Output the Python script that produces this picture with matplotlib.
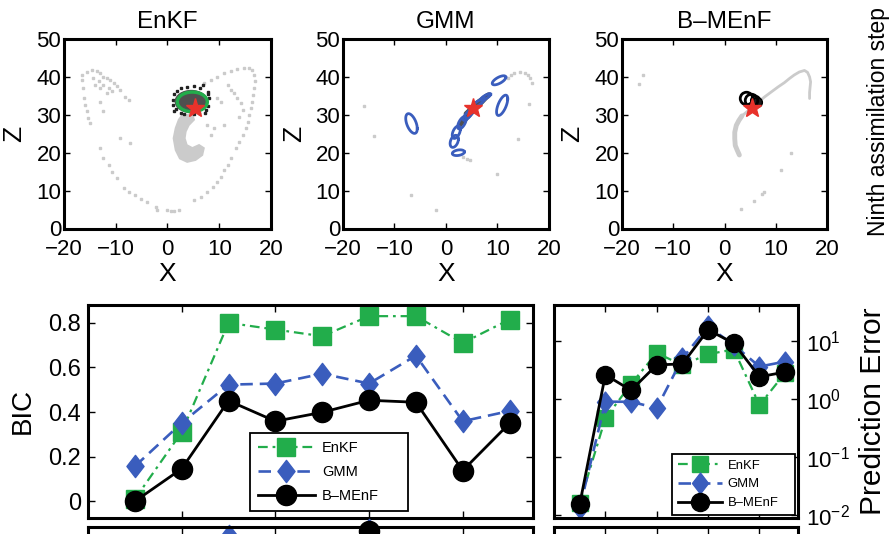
import numpy as np
import matplotlib
matplotlib.use("Agg")
import matplotlib.pyplot as plt
from matplotlib.patches import Ellipse, Polygon
from matplotlib.path import Path

plt.rcParams['font.family'] = ['Liberation Sans', 'DejaVu Sans']
plt.rcParams['lines.scale_dashes'] = False
plt.rcParams['mathtext.default'] = 'regular'

# ---------------------------------------------------------------- colours
GREEN = '#22ad4b'
BLUE = '#3a5dbd'
RED = '#e8322b'
LIGHT = '#cbcbcb'
DARK = '#4f4f4f'

# ------------------------------------------- X-Z snapshot (ninth step)
truth_x, truth_z = 5.3, 31.7

# EnKF: background ensemble spread over both wings
enkf_cloud_x = [-16.6, -15.6, -14.6, -13.7, -13.0, -12.4, -11.7, -11.1, -10.4, -9.8, -9.1,
                -8.2, -7.5, -14.3, -13.3, -12.4, -11.4, -10.7, -13.0, -11.7, -14.0,
                -16.6, -16.4, -16.1, -15.9, -15.6, -15.3, -15.0, -13.0, -12.4, -9.1, -7.2,
                -13.0, -12.4, -11.4, -10.7, -9.8, -8.5, -7.5, -6.2, -5.2, -4.0, -2.3,
                -2.0, 0.0, 0.6, 1.2, 2.2, 5.1, 6.4, 7.7, 8.7, 9.6, 10.3, 10.9, 11.6, 12.2,
                7.1, 8.4, 9.6, 10.9, 12.2, 13.5, 14.8, 15.8, 16.4, 16.8, 16.9, 16.8,
                16.6, 16.4, 16.1, 15.8, 15.5, 15.1, 14.5, 13.9, 13.2,
                11.6, 12.2, 12.9, 13.5, 14.2, 14.5, 13.9,
                7.7, 9.0, 10.9, 8.4, 9.6, 10.3]
enkf_cloud_z = [40.6, 41.4, 41.9, 41.6, 41.0, 40.1, 39.7, 39.2, 38.4, 37.5, 36.6,
                34.8, 34.0, 39.7, 38.8, 37.9, 37.0, 36.2, 37.0, 35.7, 37.9,
                39.2, 37.0, 34.4, 32.6, 30.9, 29.1, 27.8, 33.5, 30.9, 23.8, 22.5,
                21.2, 18.5, 16.8, 15.0, 13.2, 10.6, 9.7, 8.8, 7.9, 7.1, 5.7,
                4.9, 4.9, 4.6, 4.6, 4.9, 7.5, 8.4, 9.7, 11.0, 12.3, 13.7, 15.4, 16.8, 18.5,
                38.4, 39.2, 40.1, 41.0, 41.6, 42.2, 42.3, 42.3, 41.9, 40.6, 38.8, 37.0,
                35.3, 33.5, 31.7, 30.0, 28.2, 26.5, 24.7, 22.9, 21.2,
                37.9, 36.6, 35.7, 34.4, 33.1, 31.3, 29.5,
                27.3, 26.5, 27.3, 24.7, 34.4, 33.5]
# dense hook of members below the analysis
enkf_hook_x = [2.9, 4.8, 5.1, 4.1, 3.5, 3.3, 3.7, 4.8, 6.1, 7.0, 6.7, 5.4, 3.8, 2.4,
               1.6, 1.2, 1.6, 2.2]
enkf_hook_z = [30.0, 30.0, 28.7, 27.3, 25.6, 23.8, 22.0, 21.2, 22.0, 21.2, 19.4, 18.1,
               17.6, 18.5, 20.7, 23.8, 26.5, 28.7]
# analysis ensemble (mean / half-spread) and its outlying members
enkf_ens_mean = (4.6, 33.5)
enkf_ens_halfwidth = (3.1, 2.9)
enkf_fit_mean = (4.8, 33.4)
enkf_fit_halfwidth = (2.9, 2.6)
enkf_outer_x = [1.2, 1.8, 2.6, 5.1, 6.8, 7.8, 8.1, 7.8, 7.2, 5.1, 2.6, 1.2, 1.0, 1.1,
                6.3, 3.8, 1.6, 7.5, 7.9, 3.2, 6.0]
enkf_outer_z = [35.6, 36.4, 37.0, 37.6, 37.8, 36.0, 34.4, 32.2, 30.4, 30.1, 30.4, 30.9,
                32.6, 34.0, 37.2, 37.3, 31.5, 31.2, 35.6, 30.3, 30.6]

# GMM: ensemble and fitted mixture components
gmm_cloud_x = [12.0, 12.7, 13.3, 14.3, 15.3, 15.9, 16.4, 16.7, 3.3, 4.0, 4.7,
               -16.0, -13.9, -6.7, -1.9, 10.0, 14.0, 16.1]
gmm_cloud_z = [39.6, 40.5, 40.9, 41.2, 41.1, 40.6, 39.8, 38.5, 18.8, 18.4, 18.2,
               32.3, 24.4, 8.8, 5.0, 14.4, 23.7, 32.8]
gmm_dense_x = [3.9, 4.6, 5.2, 5.9, 6.5, 7.2, 7.8, 8.3, 2.6]
gmm_dense_z = [30.3, 31.2, 32.1, 33.0, 33.6, 34.3, 34.9, 35.3, 27.2]
gmm_mean_x = [-6.7, 10.3, 10.9, 2.4, 1.6, 2.0, 3.1, 4.3, 6.2, 7.7]
gmm_mean_z = [27.7, 39.1, 32.5, 20.0, 23.0, 25.4, 27.9, 30.0, 33.0, 34.7]
gmm_var_x = [1.25, 1.74, 1.17, 1.38, 0.64, 0.62, 0.68, 0.95, 1.71, 0.97]
gmm_cov_xz = [-1.51, 1.06, 1.85, 0.25, 0.46, 0.62, 0.83, 1.14, 1.50, 0.71]
gmm_var_z = [6.77, 1.43, 7.19, 0.57, 2.53, 2.66, 2.68, 2.16, 1.72, 0.78]

# B-MEnF: ensemble along the trajectory and retained kernels
bmenf_arc_x = [2.9, 2.5, 2.1, 2.0, 2.0, 2.3, 2.8, 3.4, 7.8, 9.1, 10.4, 11.7, 12.7,
               13.6, 14.6, 15.6, 16.2, 16.6, 16.8, 16.6, 16.6]
bmenf_arc_z = [19.4, 20.6, 21.9, 23.7, 25.4, 27.2, 28.5, 29.7, 34.7, 36.0, 37.3, 38.5,
               39.6, 40.5, 41.3, 41.7, 41.2, 40.0, 38.7, 35.9, 34.3]
bmenf_cloud_x = [-15.9, -16.7, 13.0, 11.0, 7.8, 7.3, 5.8, 3.3]
bmenf_cloud_z = [40.5, 38.1, 20.0, 15.5, 9.5, 9.1, 7.2, 5.1]
bmenf_kernel_x = [4.2, 5.2]
bmenf_kernel_z = [34.4, 33.9]
bmenf_core_x = [5.9, 6.4]
bmenf_core_z = [33.8, 33.5]

panel_titles = ['EnKF', 'GMM', 'B\u2013MEnF']
x_ticks = [-20, -10, 0, 10, 20]
z_ticks = [0, 10, 20, 30, 40, 50]

# ------------------------------------------------ scores per step
steps = [1, 2, 3, 4, 5, 6, 7, 8, 9]
bic_enkf = [0.01, 0.31, 0.80, 0.77, 0.74, 0.83, 0.83, 0.71, 0.815]
bic_gmm = [0.157, 0.351, 0.523, 0.528, 0.572, 0.528, 0.653, 0.359, 0.405]
bic_bmenf = [0.0, 0.146, 0.451, 0.359, 0.399, 0.453, 0.444, 0.138, 0.35]

err_enkf = [0.016, 0.46, 1.8, 6.2, 3.8, 5.9, 7.1, 0.78, 2.8]
err_gmm = [0.013, 0.89, 0.89, 0.69, 5.0, 17.8, 8.5, 3.6, 4.4]
err_bmenf = [0.015, 2.6, 1.4, 3.85, 4.0, 15.5, 9.1, 2.4, 2.9]

# next row (mostly outside the frame)
next_gmm_steps = [3, 6]
next_gmm_vals = [0.84, 0.865]
next_bmenf_steps = [6]
next_bmenf_vals = [0.86]

legend_labels = ['EnKF', 'GMM', 'B\u2013MEnF']

# ---------------------------------------------------------------- figure
W, H = 889, 534
fig = plt.figure(figsize=(W / 100, H / 100), dpi=100)


def axes_px(left, top, right, bottom):
    return fig.add_axes([left / W, 1 - bottom / H, (right - left) / W, (bottom - top) / H])


tall_diamond = Path([(0, 1), (0.77, 0), (0, -1), (-0.77, 0), (0, 1)],
                    [Path.MOVETO, Path.LINETO, Path.LINETO, Path.LINETO, Path.CLOSEPOLY])


def style_snapshot(ax, title):
    ax.set_xlim(-20, 20)
    ax.set_ylim(0, 50)
    ax.set_xticks(x_ticks)
    ax.set_yticks(z_ticks)
    ax.tick_params(direction='in', top=True, right=True, length=4, width=1,
                   labelsize=16)
    ax.tick_params(axis='x', pad=7.5)
    ax.tick_params(axis='y', pad=2)
    for s in ax.spines.values():
        s.set_linewidth(2.2)
    ax.set_title(title, fontsize=17.5, pad=8)
    ax.set_xlabel('X', fontsize=19, labelpad=1.5)
    ax.set_ylabel('Z', fontsize=19, labelpad=7)


gray_kw = dict(ls='none', marker='s', ms=1.9, mfc=LIGHT, mec=LIGHT)
star_kw = dict(ls='none', marker='*', ms=14, mfc=RED, mec=RED, zorder=6)

# EnKF snapshot
ax1 = axes_px(64, 39, 271, 228.5)
ax1.add_patch(Polygon(np.column_stack([enkf_hook_x, enkf_hook_z]), closed=True,
                      fc=LIGHT, ec=LIGHT, lw=1.5))
ax1.plot(enkf_cloud_x, enkf_cloud_z, **gray_kw)
ax1.plot(enkf_outer_x, enkf_outer_z, ls='none', marker='s', ms=1.6, mfc='#222222',
         mec='#222222', zorder=3)
ax1.add_patch(Ellipse(enkf_ens_mean, 2 * enkf_ens_halfwidth[0], 2 * enkf_ens_halfwidth[1],
                      fc=DARK, ec=DARK, zorder=3))
ax1.add_patch(Ellipse(enkf_fit_mean, 2 * enkf_fit_halfwidth[0], 2 * enkf_fit_halfwidth[1],
                      fc='none', ec=GREEN, lw=2.4, zorder=4))
ax1.plot([truth_x], [truth_z], **star_kw)
style_snapshot(ax1, panel_titles[0])

# GMM snapshot
ax2 = axes_px(343, 39, 549, 228.5)
ax2.plot(gmm_cloud_x, gmm_cloud_z, **gray_kw)
ax2.plot(gmm_dense_x, gmm_dense_z, color=DARK, lw=3.5, solid_capstyle='round', zorder=3)
t = np.linspace(0, 2 * np.pi, 120)
circle = np.vstack([np.cos(t), np.sin(t)])
for mx, mz, vx, cxz, vz in zip(gmm_mean_x, gmm_mean_z, gmm_var_x, gmm_cov_xz, gmm_var_z):
    L = np.linalg.cholesky(np.array([[vx, cxz], [cxz, vz]]))
    ring = L @ circle
    ax2.plot(mx + ring[0], mz + ring[1], color=BLUE, lw=2.0, zorder=4)
ax2.plot([truth_x], [truth_z], **star_kw)
style_snapshot(ax2, panel_titles[1])

# B-MEnF snapshot
ax3 = axes_px(622, 39, 827, 228.5)
ax3.plot(bmenf_arc_x[:8], bmenf_arc_z[:8], color=LIGHT, lw=3.5, solid_capstyle='round')
ax3.plot(bmenf_arc_x[7:], bmenf_arc_z[7:], color=LIGHT, lw=2.0, solid_capstyle='round')
ax3.plot(bmenf_cloud_x, bmenf_cloud_z, **gray_kw)
ax3.plot(bmenf_core_x, bmenf_core_z, ls='none', marker='o', ms=7, mfc='#1a1a1a',
         mec='black', zorder=5)
ax3.plot(bmenf_kernel_x, bmenf_kernel_z, ls='none', marker='o', ms=9, mfc='none',
         mec='black', mew=2, zorder=5)
ax3.plot([truth_x], [truth_z], **star_kw)
style_snapshot(ax3, panel_titles[2])

fig.text(878 / W, 1 - 122 / H, 'Ninth assimilation step', rotation=90, fontsize=16.5,
         ha='center', va='center')

# ------------------------------------------------------------ score panels
series_style = [
    dict(color=GREEN, ls=(0, (7, 3.5, 2, 3.5)), lw=1.6, marker='s', ms=13,
         mfc=GREEN, mec=GREEN),
    dict(color=BLUE, ls=(0, (9, 5)), lw=1.9, marker=tall_diamond, ms=16,
         mfc=BLUE, mec=BLUE),
    dict(color='black', ls='-', lw=2.0, marker='o', ms=14.5, mfc='black', mec='black'),
]
legend_font = ['Liberation Sans Narrow', 'Liberation Sans', 'DejaVu Sans']


def style_score(ax):
    for s in ax.spines.values():
        s.set_linewidth(2.2)
    ax.set_xlim(0, 9.5)
    ax.set_xticks([2, 4, 6, 8])
    ax.tick_params(direction='in', top=True, right=True, length=5, width=1,
                   labelbottom=False)


# BIC
ax4 = axes_px(88, 305, 533, 517.5)
for vals, st, lab in zip([bic_enkf, bic_gmm, bic_bmenf], series_style, legend_labels):
    ax4.plot(steps, vals, label=lab, clip_on=False, **st)
style_score(ax4)
ax4.set_ylim(-0.0725, 0.88)
ax4.set_yticks([0, 0.2, 0.4, 0.6, 0.8])
ax4.set_yticklabels(['0', '0.2', '0.4', '0.6', '0.8'])
ax4.tick_params(axis='y', labelsize=17, pad=5)
ax4.set_ylabel('BIC', fontsize=20, labelpad=9)
leg = ax4.legend(loc='lower left', bbox_to_anchor=(0.3635, 0.031, 0.3545, 0.371),
                 mode='expand', borderaxespad=0,
                 prop=dict(family=legend_font, size=10.5), handlelength=3.9,
                 handletextpad=0.5, labelspacing=0.68, borderpad=0.55,
                 fancybox=False, framealpha=1, edgecolor='black')
leg.get_frame().set_linewidth(1.3)

# Prediction error
ax5 = axes_px(554, 305, 798, 517.5)
small_style = [
    dict(series_style[0], ms=11.5),
    dict(series_style[1], ms=15),
    dict(series_style[2], ms=13),
]
for vals, st, lab in zip([err_enkf, err_gmm, err_bmenf], small_style, legend_labels):
    ax5.plot(steps, vals, label=lab, clip_on=False, **st)
ax5.set_yscale('log')
style_score(ax5)
ax5.set_ylim(10 ** -2.05, 10 ** 1.62)
ax5.set_yticks([1e-2, 1e-1, 1e0, 1e1])
ax5.yaxis.set_minor_locator(matplotlib.ticker.NullLocator())
ax5.tick_params(axis='y', labelleft=False, labelright=True, labelsize=16, pad=6)
ax5.yaxis.set_label_position('right')
ax5.set_ylabel('Prediction Error', fontsize=21.5, labelpad=6)
leg2 = ax5.legend(loc='lower left', bbox_to_anchor=(0.4836, 0.012, 0.504, 0.292),
                  mode='expand', borderaxespad=0,
                  prop=dict(family=legend_font, size=9.4), handlelength=3.4,
                  handletextpad=0.4, labelspacing=0.5, borderpad=0.45,
                  fancybox=False, framealpha=1, edgecolor='black')
leg2.get_frame().set_linewidth(1.3)

# next row of panels, cut by the lower edge
ax6 = axes_px(88, 527, 533, 740)
ax6.plot(next_gmm_steps, next_gmm_vals, ls='none', marker=tall_diamond, ms=16,
         mfc=BLUE, mec=BLUE, clip_on=False)
ax6.plot(next_bmenf_steps, next_bmenf_vals, ls='none', marker='o', ms=14.5,
         mfc='black', mec='black', clip_on=False)
style_score(ax6)
ax6.set_ylim(-0.0725, 0.88)
ax6.set_yticks([])
ax7 = axes_px(554, 527, 798, 740)
style_score(ax7)
ax7.set_yticks([])

fig.savefig('out.png', dpi=100)
